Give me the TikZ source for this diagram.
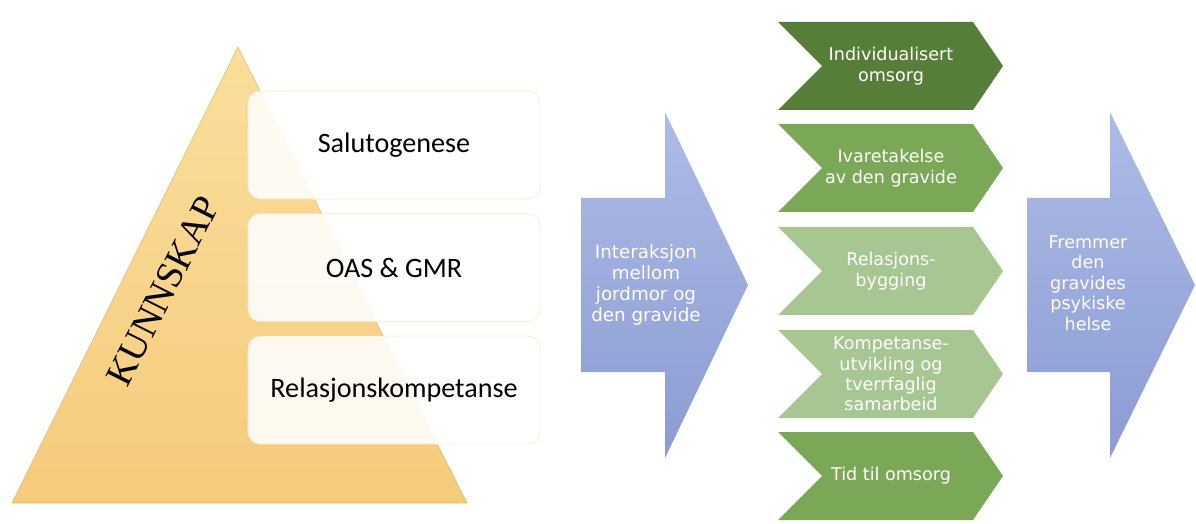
\documentclass[tikz,border=0pt]{standalone}
\usepackage{fontspec}
\setmainfont{Liberation Serif}
\newfontfamily\calfont{Carlito}
\newfontfamily\verfont{DejaVu Sans}
\usetikzlibrary{positioning}
\definecolor{pyrtop}{RGB}{251,222,156}
\definecolor{pyrbot}{RGB}{245,203,124}
\definecolor{pyredge}{RGB}{226,186,112}
\definecolor{boxedge}{RGB}{250,231,182}
\definecolor{arrtop}{RGB}{173,187,230}
\definecolor{arrbot}{RGB}{140,156,211}
\definecolor{chevdark}{RGB}{86,126,56}
\definecolor{chevmid}{RGB}{122,168,86}
\definecolor{chevlight}{RGB}{168,198,145}

\begin{document}
\begin{tikzpicture}[x=0.025cm, y=-0.025cm,
  lvl/.style={draw=boxedge, fill=white, fill opacity=0.88, text opacity=1, rounded corners=0.3cm,
    minimum width=7.3cm, minimum height=2.7cm, font=\calfont\fontsize{20}{24}\selectfont},
  arrtxt/.style={text=white, align=center, font=\verfont\fontsize{12.5}{14.5}\selectfont}]
\useasboundingbox (0,0) rectangle (1196,524);

% pyramid
\shade[top color=pyrtop, bottom color=pyrbot, draw=pyredge] (12,503) -- (238,47) -- (467,503) -- cycle;
\node[rotate=63.3, font=\fontsize{27}{29}\selectfont] (kunnskap) at (163,291) {KUNNSKAP};
\node[lvl] (salut) at (394,145) {Salutogenese};
\node[lvl, below=0.35cm of salut] (oas) {OAS \& GMR};
\node[lvl, below=0.35cm of oas] (relkomp) {Relasjonskompetanse};

% big arrows
\shade[top color=arrtop, bottom color=arrbot] (581,198) -- (665,198) -- (665,112) -- (748,285)
  -- (665,458) -- (665,372) -- (581,372) -- cycle;
\node[arrtxt, font=\verfont\fontsize{13}{15}\selectfont] (interaksjon) at (646,285) {Interaksjon\\mellom\\jordmor og\\den gravide};
\shade[top color=arrtop, bottom color=arrbot] (1027,198) -- (1110,198) -- (1110,112) -- (1195,285)
  -- (1110,458) -- (1110,372) -- (1027,372) -- cycle;
\node[arrtxt] (fremmer) at (1088,283) {Fremmer\\den\\gravides\\psykiske\\helse};

% chevrons
\foreach \i/\y/\col/\txt in {1/22/chevdark/{Individualisert\\omsorg},
    2/124/chevmid/{Ivaretakelse\\av den gravide},
    3/227/chevlight/{Relasjons-\\bygging},
    4/330/chevlight/{Kompetanse-\\utvikling og\\tverrfaglig\\samarbeid},
    5/432/chevmid/{Tid til omsorg}} {
  \fill[\col] (778,\y) -- ++(195,0) -- ++(30,44) -- ++(-30,44) -- ++(-195,0) -- ++(44,-44) -- cycle;
  \node[arrtxt] (chev\i) at (891,\y+44) {\txt};
}
\end{tikzpicture}
\end{document}
